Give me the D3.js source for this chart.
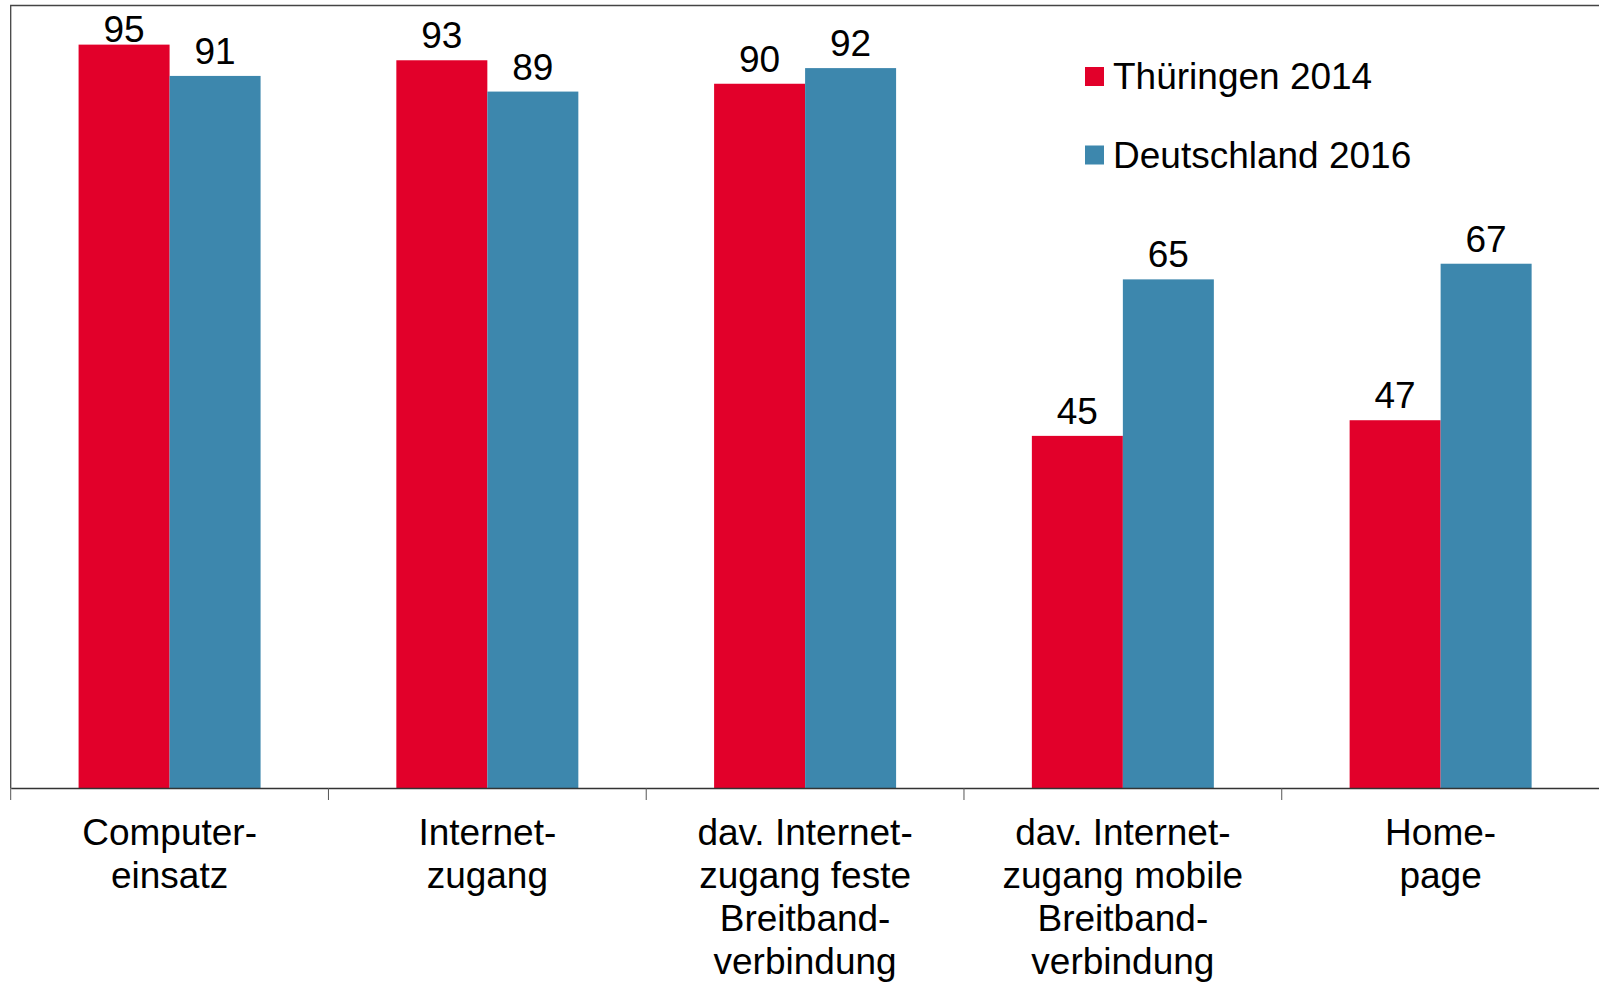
<!DOCTYPE html>
<html>
<head>
<meta charset="utf-8">
<script src="https://cdn.jsdelivr.net/npm/d3@7"></script>
<style>
  body { margin: 0; background: #fff; }
  svg { display: block; font-family: "Liberation Sans", Arial, sans-serif; }
</style>
</head>
<body>
<div id="chart"></div>
<script>
const categories = ["Computereinsatz", "Internetzugang", "feste Breitbandverbindung", "mobile Breitbandverbindung", "Homepage"];
const categoryLines = [
  ["Computer-", "einsatz"],
  ["Internet-", "zugang"],
  ["dav. Internet-", "zugang feste", "Breitband-", "verbindung"],
  ["dav. Internet-", "zugang mobile", "Breitband-", "verbindung"],
  ["Home-", "page"]
];
const seriesNames = ["Thüringen 2014", "Deutschland 2016"];
const thueringen = [95, 93, 90, 45, 47];
const deutschland = [91, 89, 92, 65, 67];
const colors = ["#e2002a", "#3d87ad"];

const width = 1599, height = 983;
const margin = { top: 5.5, right: -0.5, bottom: 195, left: 10.7 };

const svg = d3.select("#chart").append("svg")
  .attr("width", width)
  .attr("height", height);

const x = d3.scaleBand()
  .domain(categories)
  .range([margin.left, width - margin.right])
  .padding(0);

const xs = d3.scaleBand()
  .domain(seriesNames)
  .range([0, x.bandwidth()])
  .paddingInner(0)
  .paddingOuter(0.746);

const y = d3.scaleLinear()
  .domain([0, 100])
  .range([height - margin.bottom, margin.top]);

const color = d3.scaleOrdinal().domain(seriesNames).range(colors);

const rows = categories.map((c, i) => ({
  cat: c,
  values: [
    { s: seriesNames[0], v: thueringen[i] },
    { s: seriesNames[1], v: deutschland[i] }
  ]
}));

// frame (left + top)
svg.append("path")
  .attr("d", `M${x.range()[0]},${y(0)}V${y(100)}H${width}`)
  .attr("fill", "none")
  .attr("stroke", "#444")
  .attr("stroke-width", 1.3);

const groups = svg.append("g")
  .selectAll("g")
  .data(rows)
  .join("g")
  .attr("transform", d => `translate(${x(d.cat)},0)`);

groups.selectAll("rect")
  .data(d => d.values)
  .join("rect")
  .attr("x", d => xs(d.s))
  .attr("y", d => y(d.v))
  .attr("width", xs.bandwidth())
  .attr("height", d => y(0) - y(d.v))
  .attr("fill", d => color(d.s));

// labels sit 12px above the bar, but never above the frame
groups.selectAll("text.val")
  .data(d => d.values)
  .join("text")
  .attr("class", "val")
  .attr("x", d => xs(d.s) + xs.bandwidth() / 2)
  .attr("y", d => Math.max(y(d.v) - 12, y(100) + 36))
  .attr("text-anchor", "middle")
  .attr("font-size", 37)
  .attr("fill", "#000")
  .text(d => d.v);

// x axis
const axis = svg.append("g")
  .attr("transform", `translate(0,${y(0)})`)
  .call(d3.axisBottom(x).tickSize(0).tickFormat(""));
axis.select(".domain").attr("stroke", "#333").attr("stroke-width", 1.5);

svg.append("g")
  .selectAll("line")
  .data(categories)
  .join("line")
  .attr("x1", d => x(d)).attr("x2", d => x(d))
  .attr("y1", y(0)).attr("y2", y(0) + 12)
  .attr("stroke", "#555")
  .attr("stroke-width", 1);

svg.append("g")
  .selectAll("text")
  .data(categories)
  .join("text")
  .attr("text-anchor", "middle")
  .attr("font-size", 37)
  .attr("fill", "#000")
  .each(function(d, i) {
    d3.select(this).selectAll("tspan")
      .data(categoryLines[i])
      .join("tspan")
      .attr("x", x(d) + x.bandwidth() / 2)
      .attr("y", (t, j) => y(0) + 57 + j * 43)
      .text(t => t);
  });

// legend
const legend = svg.append("g")
  .attr("transform", "translate(1085,0)")
  .selectAll("g")
  .data(seriesNames)
  .join("g")
  .attr("transform", (d, i) => `translate(0,${67 + i * 78.5})`);

legend.append("rect")
  .attr("width", 19)
  .attr("height", 19)
  .attr("fill", d => color(d));

legend.append("text")
  .attr("x", 28)
  .attr("y", 22)
  .attr("font-size", 37)
  .attr("fill", "#000")
  .text(d => d);
</script>
</body>
</html>
